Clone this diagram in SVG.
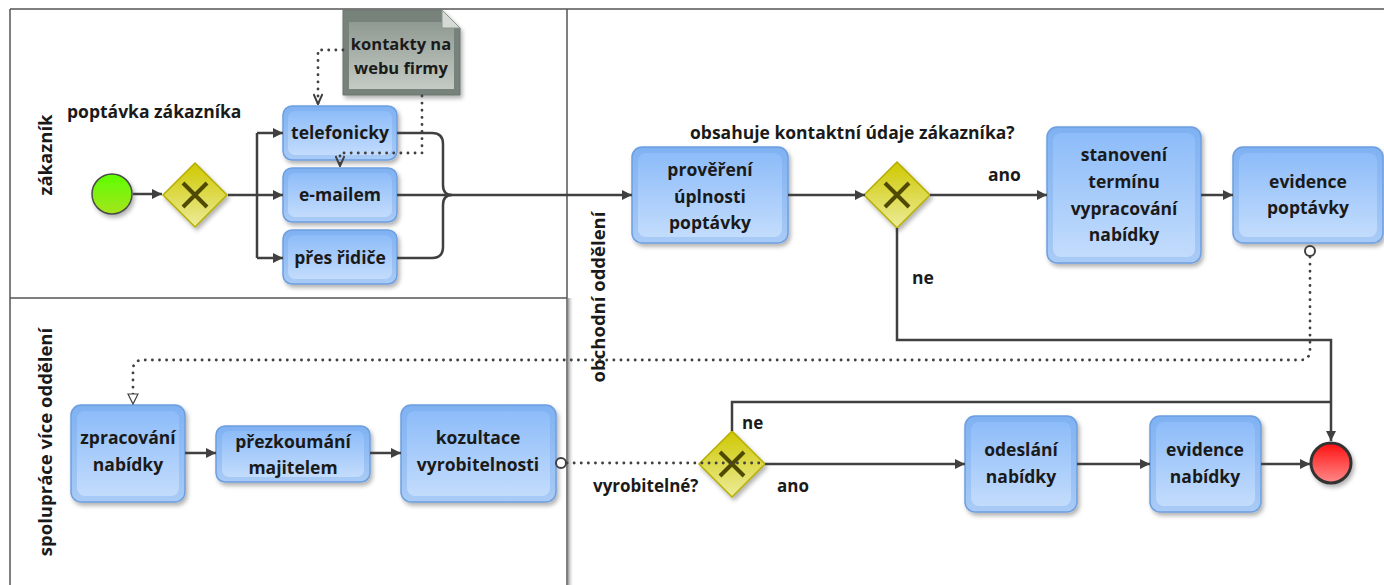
<svg xmlns="http://www.w3.org/2000/svg" width="1384" height="585" viewBox="0 0 1384 585">
<defs>
  <linearGradient id="gTask" x1="0" y1="0" x2="0" y2="1">
    <stop offset="0" stop-color="#7fb1f2"/>
    <stop offset="1" stop-color="#a9cbf6"/>
  </linearGradient>
  <linearGradient id="gTaskIn" x1="0" y1="0" x2="0" y2="1">
    <stop offset="0" stop-color="#8dbcf9"/>
    <stop offset="1" stop-color="#c3dcfc"/>
  </linearGradient>
  <linearGradient id="gGate" x1="0" y1="0" x2="0" y2="1">
    <stop offset="0" stop-color="#cfc800"/>
    <stop offset="1" stop-color="#ecec9a"/>
  </linearGradient>
  <linearGradient id="gStart" x1="0" y1="0" x2="0" y2="1">
    <stop offset="0" stop-color="#5cff00"/>
    <stop offset="1" stop-color="#a6e41c"/>
  </linearGradient>
  <linearGradient id="gEnd" x1="0" y1="0" x2="0" y2="1">
    <stop offset="0" stop-color="#ff1010"/>
    <stop offset="1" stop-color="#ff8a8a"/>
  </linearGradient>
  <linearGradient id="gData" x1="0" y1="0" x2="0" y2="1">
    <stop offset="0" stop-color="#8f9a92"/>
    <stop offset="1" stop-color="#c4cac4"/>
  </linearGradient>
  <linearGradient id="gShadowV" x1="0" y1="0" x2="1" y2="0">
    <stop offset="0" stop-color="#9a9a9a"/>
    <stop offset="1" stop-color="#ffffff" stop-opacity="0"/>
  </linearGradient>
  <filter id="sh" x="-20%" y="-20%" width="140%" height="150%">
    <feDropShadow dx="2" dy="3" stdDeviation="2" flood-color="#000" flood-opacity="0.3"/>
  </filter>
  <marker id="arr" viewBox="0 0 10 10" refX="10" refY="5" markerWidth="10" markerHeight="10" markerUnits="userSpaceOnUse" orient="auto">
    <path d="M0,0 L10,5 L0,10 z" fill="#404040"/>
  </marker>
  <marker id="vArr" viewBox="0 0 12 10" refX="11" refY="5" markerWidth="12" markerHeight="10" markerUnits="userSpaceOnUse" orient="auto">
    <path d="M1,0.5 L11,5 L1,9.5" fill="none" stroke="#404040" stroke-width="2"/>
  </marker>
  <marker id="triOpen" viewBox="0 0 12 12" refX="11" refY="6" markerWidth="12" markerHeight="12" markerUnits="userSpaceOnUse" orient="auto">
    <path d="M1,1 L11,6 L1,11 z" fill="#fff" stroke="#404040" stroke-width="1.2"/>
  </marker>
  <style>
    .lane{fill:none;stroke:#555;stroke-width:1.5}
    .t{font-family:"Open Sans","Noto Sans","DejaVu Sans",sans-serif;font-weight:bold;font-size:17.5px;fill:#1a1a1a;text-anchor:middle}
    .tl{font-family:"Open Sans","Noto Sans","DejaVu Sans",sans-serif;font-weight:bold;font-size:17.5px;fill:#1a1a1a}
    .ll{font-size:18.5px}
    .box{fill:url(#gTask);stroke:#6d9ee0;stroke-width:1.5;filter:url(#sh)}
    .boxin{fill:url(#gTaskIn);stroke:none}
    .gate{fill:url(#gGate);stroke:#b5ad00;stroke-width:1.5;filter:url(#sh)}
    .gx{stroke:#4f4a00;stroke-width:4;stroke-linecap:butt}
    .c{fill:none;stroke:#404040;stroke-width:2.5}
    .ca{fill:none;stroke:#404040;stroke-width:2.5;marker-end:url(#arr)}
    .dot{fill:none;stroke:#404040;stroke-width:2.8;stroke-dasharray:0.1 7;stroke-linecap:round}
    .mcirc{fill:#fff;stroke:#404040;stroke-width:2}
  </style>
</defs>

<g id="lanes">
  <rect x="568" y="298" width="6" height="287" fill="url(#gShadowV)"/>
  <line class="lane" x1="10" y1="9" x2="1384" y2="9"/>
  <line class="lane" x1="10" y1="9" x2="10" y2="585"/>
  <line class="lane" x1="10" y1="298" x2="567" y2="298"/>
  <line class="lane" x1="567" y1="9" x2="567" y2="585"/>
  <text class="t ll" transform="translate(52,155) rotate(-90)">zákazník</text>
  <text class="t ll" transform="translate(52,442) rotate(-90)">spolupráce více oddělení</text>
  <text class="t ll" transform="translate(605,297) rotate(-90)">obchodní oddělení</text>
</g>

<g id="start">
  <circle cx="112" cy="194" r="20" fill="url(#gStart)" stroke="#4a4a4a" stroke-width="1.5" filter="url(#sh)"/>
</g>
<g id="gw1">
  <path class="gate" d="M195,163 L227,195 L195,227 L163,195 z"/>
  <path class="gx" d="M183,183 L207,207 M207,183 L183,207"/>
</g>
<text class="tl" x="67" y="118">poptávka zákazníka</text>

<g id="telefonicky">
  <rect class="box" x="283" y="106" width="114" height="54" rx="9"/>
  <rect class="boxin" x="288" y="111" width="104" height="44" rx="7"/>
  <text class="t" x="340" y="139">telefonicky</text>
</g>
<g id="emailem">
  <rect class="box" x="283" y="168" width="114" height="54" rx="9"/>
  <rect class="boxin" x="288" y="173" width="104" height="44" rx="7"/>
  <text class="t" x="340" y="201">e-mailem</text>
</g>
<g id="presridice">
  <rect class="box" x="283" y="230" width="114" height="54" rx="9"/>
  <rect class="boxin" x="288" y="235" width="104" height="44" rx="7"/>
  <text class="t" x="340" y="264">přes řidiče</text>
</g>

<g id="kontakty">
  <path d="M343,10 H442 L460,28 V95 H343 z" fill="#76827a" stroke="#6a756d" stroke-width="1" filter="url(#sh)"/>
  <rect x="349" y="22" width="105" height="67" fill="url(#gData)"/>
  <path d="M442,10 L442,28 L460,28 z" fill="#d6dad6" stroke="#8a948c" stroke-width="1"/>
  <text class="t" x="401" y="50" style="font-size:16.5px">kontakty na</text>
  <text class="t" x="401" y="74" style="font-size:16.5px">webu firmy</text>
</g>

<g id="provereni">
  <rect class="box" x="632" y="147" width="156" height="96" rx="10"/>
  <rect class="boxin" x="638" y="153" width="144" height="84" rx="8"/>
  <text class="t" x="710" y="176">prověření</text>
  <text class="t" x="710" y="203">úplnosti</text>
  <text class="t" x="710" y="229">poptávky</text>
</g>

<g id="gw2">
  <path class="gate" d="M897,162 L930,195 L897,228 L864,195 z"/>
  <path class="gx" d="M885,183 L909,207 M909,183 L885,207"/>
</g>
<text class="tl" x="690" y="139">obsahuje kontaktní údaje zákazníka?</text>
<text class="tl" x="988" y="181">ano</text>
<text class="tl" x="912" y="284">ne</text>

<g id="stanoveni">
  <rect class="box" x="1047" y="127" width="154" height="136" rx="10"/>
  <rect class="boxin" x="1053" y="133" width="142" height="124" rx="8"/>
  <text class="t" x="1124" y="161">stanovení</text>
  <text class="t" x="1124" y="188">termínu</text>
  <text class="t" x="1124" y="215">vypracování</text>
  <text class="t" x="1124" y="241">nabídky</text>
</g>

<g id="evidencepoptavky">
  <rect class="box" x="1233" y="147" width="150" height="96" rx="10"/>
  <rect class="boxin" x="1239" y="153" width="138" height="84" rx="8"/>
  <text class="t" x="1308" y="188">evidence</text>
  <text class="t" x="1308" y="214">poptávky</text>
</g>

<g id="zpracovani">
  <rect class="box" x="71" y="405" width="114" height="97" rx="10"/>
  <rect class="boxin" x="77" y="411" width="102" height="85" rx="8"/>
  <text class="t" x="128" y="444">zpracování</text>
  <text class="t" x="128" y="471">nabídky</text>
</g>
<g id="prezkoumani">
  <rect class="box" x="216" y="426" width="154" height="56" rx="9"/>
  <rect class="boxin" x="222" y="431" width="142" height="46" rx="7"/>
  <text class="t" x="293" y="448">přezkoumání</text>
  <text class="t" x="293" y="474">majitelem</text>
</g>
<g id="kozultace">
  <rect class="box" x="401" y="405" width="155" height="97" rx="10"/>
  <rect class="boxin" x="407" y="411" width="143" height="85" rx="8"/>
  <text class="t" x="478" y="444">kozultace</text>
  <text class="t" x="478" y="471">vyrobitelnosti</text>
</g>

<g id="gw3">
  <path class="gate" d="M732,431 L765,464 L732,497 L699,464 z"/>
  <path class="gx" d="M720,452 L744,476 M744,452 L720,476"/>
</g>
<text class="tl" x="593" y="492" style="font-size:17px">vyrobitelné?</text>
<text class="tl" x="777" y="492" style="font-size:17px">ano</text>
<text class="tl" x="742" y="429" style="font-size:17px">ne</text>

<g id="odeslani">
  <rect class="box" x="965" y="416" width="112" height="96" rx="10"/>
  <rect class="boxin" x="971" y="422" width="100" height="84" rx="8"/>
  <text class="t" x="1021" y="456">odeslání</text>
  <text class="t" x="1021" y="483">nabídky</text>
</g>
<g id="evidencenabidky">
  <rect class="box" x="1150" y="416" width="111" height="96" rx="10"/>
  <rect class="boxin" x="1156" y="422" width="99" height="84" rx="8"/>
  <text class="t" x="1205" y="456">evidence</text>
  <text class="t" x="1205" y="483">nabídky</text>
</g>

<g id="end">
  <circle cx="1331" cy="463" r="20" fill="url(#gEnd)" stroke="#333" stroke-width="3" filter="url(#sh)"/>
</g>

<g id="connectors">
  <path class="ca" d="M133,194 H162"/>
  <path class="c" d="M228,195 H257 M257,133 V258"/>
  <path class="ca" d="M257,133 H283"/>
  <path class="ca" d="M257,195 H283"/>
  <path class="ca" d="M257,258 H283"/>
  <path class="c" d="M397,133 H432 Q443,133 443,144 V185 Q443,195 452,195 Q443,195 443,205 V247 Q443,258 432,258 H397"/>
  <path class="c" d="M397,195 H452"/>
  <path class="ca" d="M452,195 H632"/>
  <path class="ca" d="M788,195 H865"/>
  <path class="ca" d="M930,195 H1047"/>
  <path class="ca" d="M1201,195 H1233"/>
  <path class="ca" d="M897,228 V340 H1331 V441"/>
  <path class="c" d="M732,431 V402 H1331"/>
  <path class="ca" d="M765,464 H965"/>
  <path class="ca" d="M1077,464 H1150"/>
  <path class="ca" d="M1261,464 H1310"/>
  <path class="ca" d="M185,453 H216"/>
  <path class="ca" d="M370,453 H401"/>
  <path class="dot" d="M343,50 H318 V104" style="marker-end:url(#vArr)"/>
  <path class="dot" d="M422,96 V153 H340 V166" style="marker-end:url(#vArr)"/>
  <path class="dot" d="M1310,257 V350 Q1310,360 1300,360 H143 Q133,360 133,370 V404" style="marker-end:url(#triOpen)"/>
  <circle class="mcirc" cx="1310" cy="251" r="5"/>
  <path class="dot" d="M567,463 H765"/>
  <circle class="mcirc" cx="561" cy="463" r="5"/>
</g>
</svg>
